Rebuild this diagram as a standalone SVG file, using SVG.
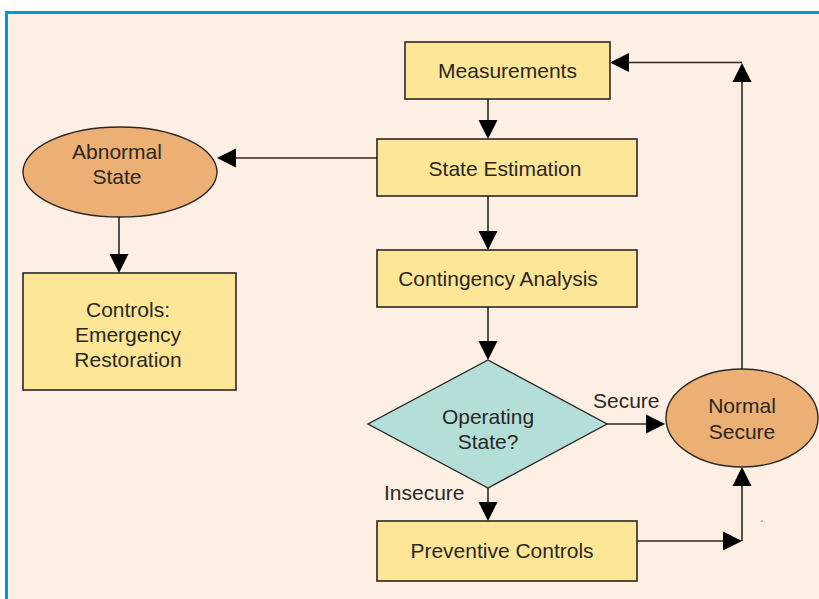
<svg xmlns="http://www.w3.org/2000/svg" width="819" height="599" viewBox="0 0 819 599">
<defs>
<style>
.box{fill:#FEE697;stroke:#2b2725;stroke-width:1.6}
.ell{fill:#ECAF74;stroke:#2b2725;stroke-width:1.4}
.dia{fill:#B3DFD8;stroke:#2b2725;stroke-width:1.4}
.ln{fill:none;stroke:#2b2725;stroke-width:1.6}
.ah{fill:#000}
text{font-family:"Liberation Sans",Arial,sans-serif;font-size:21px;fill:#2b2725;text-anchor:middle}
.lbl{text-anchor:start}
</style>
</defs>
<rect x="0" y="0" width="819" height="599" fill="#ffffff"/>
<rect x="6.5" y="12.5" width="830" height="600" fill="#FDEFE3" stroke="#0096D6" stroke-width="3"/>

<g id="connectors">
<line class="ln" x1="488" y1="99" x2="488" y2="122"/>
<polygon class="ah" points="478.5,120 497.5,120 488,139"/>
<line class="ln" x1="377" y1="158" x2="234" y2="158"/>
<polygon class="ah" points="236,148.5 236,167.5 217,158"/>
<line class="ln" x1="119" y1="217" x2="119" y2="256"/>
<polygon class="ah" points="109.5,254 128.5,254 119,273"/>
<line class="ln" x1="488" y1="196" x2="488" y2="233"/>
<polygon class="ah" points="478.5,231 497.5,231 488,250"/>
<line class="ln" x1="488" y1="307" x2="488" y2="343"/>
<polygon class="ah" points="478.5,341 497.5,341 488,360"/>
<line class="ln" x1="607" y1="424" x2="648" y2="424"/>
<polygon class="ah" points="646,414.5 646,433.5 665,424"/>
<line class="ln" x1="488" y1="488" x2="488" y2="504"/>
<polygon class="ah" points="478.5,502 497.5,502 488,521"/>
<line class="ln" x1="637" y1="541" x2="725" y2="541"/>
<polygon class="ah" points="723,531.5 723,550.5 742,541"/>
<line class="ln" x1="742" y1="541" x2="742" y2="484"/>
<polygon class="ah" points="732.5,486 751.5,486 742,467"/>
<line class="ln" x1="742" y1="369" x2="742" y2="80"/>
<polygon class="ah" points="732.5,82 751.5,82 742,63"/>
<line class="ln" x1="742" y1="62.5" x2="627" y2="62.5"/>
<polygon class="ah" points="629,53 629,72 610,62.5"/>
<text class="lbl" x="593" y="408">Secure</text>
<text class="lbl" x="384" y="500">Insecure</text>
</g>

<g id="measurements">
<rect class="box" x="405" y="42" width="205" height="57"/>
<text x="507.5" y="78">Measurements</text>
</g>
<g id="state-estimation">
<rect class="box" x="377" y="139" width="260" height="57"/>
<text x="505" y="176">State Estimation</text>
</g>
<g id="contingency-analysis">
<rect class="box" x="377" y="250" width="260" height="57"/>
<text x="498" y="286">Contingency Analysis</text>
</g>
<g id="operating-state">
<polygon class="dia" points="488,360 607,424 488,488 368,424"/>
<text x="488" y="424">Operating</text>
<text x="488" y="449">State?</text>
</g>
<g id="preventive-controls">
<rect class="box" x="377" y="521" width="260" height="60"/>
<text x="502" y="558">Preventive Controls</text>
</g>
<g id="normal-secure">
<ellipse class="ell" cx="742" cy="418" rx="76" ry="49"/>
<text x="742" y="413">Normal</text>
<text x="742" y="439">Secure</text>
</g>
<g id="abnormal-state">
<ellipse class="ell" cx="120" cy="172" rx="97" ry="45"/>
<text x="117" y="159">Abnormal</text>
<text x="117" y="184">State</text>
</g>
<g id="controls-emergency">
<rect class="box" x="23" y="273" width="213" height="117"/>
<text x="128" y="317">Controls:</text>
<text x="128" y="342">Emergency</text>
<text x="128" y="367">Restoration</text>
</g>
<rect x="761.5" y="520.5" width="1.2" height="1.2" fill="#555"/>
</svg>
